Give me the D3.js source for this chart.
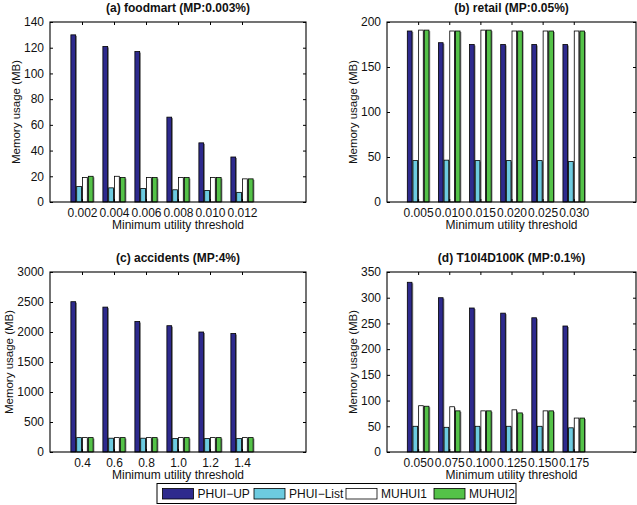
<!DOCTYPE html>
<html><head><meta charset="utf-8">
<script src="https://cdn.jsdelivr.net/npm/d3@7/dist/d3.min.js"></script>
<style>body{margin:0;background:#fff}svg{display:block;font-family:Arial,"Liberation Sans",sans-serif}</style>
</head><body><svg id="c" width="637" height="505"></svg>
<script>
const seriesNames = ["PHUI\u2212UP", "PHUI\u2212List", "MUHUI1", "MUHUI2"];
const seriesColors = ["#2e2a8d", "#6dcbe0", "#ffffff", "#54c248"];

const titles = ["(a) foodmart (MP:0.003%)", "(b) retail (MP:0.05%)", "(c) accidents (MP:4%)", "(d) T10I4D100K (MP:0.1%)"];
const xLabelsA = ["0.002", "0.004", "0.006", "0.008", "0.010", "0.012"];
const xLabelsB = ["0.005", "0.010", "0.015", "0.020", "0.025", "0.030"];
const xLabelsC = ["0.4", "0.6", "0.8", "1.0", "1.2", "1.4"];
const xLabelsD = ["0.050", "0.075", "0.100", "0.125", "0.150", "0.175"];

// values per panel: [PHUI-UP, PHUI-List, MUHUI1, MUHUI2]
const foodmartUP   = [130, 121, 117, 66, 46, 35];
const foodmartList = [12, 11, 10.5, 9.5, 9, 7.5];
const foodmartM1   = [19, 20, 19, 19, 19, 18];
const foodmartM2   = [20, 19, 19, 19, 19, 18];

const retailUP   = [190, 177, 175, 175, 175, 175];
const retailList = [46, 46.5, 46, 46, 46, 45];
const retailM1   = [191, 190, 191, 190, 190, 190];
const retailM2   = [191, 190, 191, 190, 190, 190];

const accUP   = [2505, 2415, 2175, 2105, 2000, 1975];
const accList = [240, 230, 230, 225, 225, 225];
const accM1   = [240, 240, 240, 240, 240, 240];
const accM2   = [240, 240, 240, 240, 240, 240];

const t10UP   = [330, 300, 280, 270, 261, 245];
const t10List = [50, 48, 50, 50, 50, 47];
const t10M1   = [90, 88, 80, 82, 80, 66];
const t10M2   = [89, 80, 80, 76, 80, 66];

const yMax = [140, 200, 3000, 350];
const yStep = [20, 50, 500, 50];

const panels = [
  {title: titles[0], labels: xLabelsA, series: [foodmartUP, foodmartList, foodmartM1, foodmartM2], ymax: yMax[0], ystep: yStep[0], box: {l: 50, r: 306, t: 22, b: 202}},
  {title: titles[1], labels: xLabelsB, series: [retailUP, retailList, retailM1, retailM2], ymax: yMax[1], ystep: yStep[1], box: {l: 387, r: 636, t: 22, b: 202}},
  {title: titles[2], labels: xLabelsC, series: [accUP, accList, accM1, accM2], ymax: yMax[2], ystep: yStep[2], box: {l: 50, r: 306, t: 272, b: 452}},
  {title: titles[3], labels: xLabelsD, series: [t10UP, t10List, t10M1, t10M2], ymax: yMax[3], ystep: yStep[3], box: {l: 387, r: 636, t: 272, b: 452}}
];

const svg = d3.select("#c");
const fs = 12;
const ff = "Arial, 'Liberation Sans', sans-serif";

panels.forEach(p => {
  const B = p.box;
  const g = svg.append("g");
  const x = d3.scaleLinear().domain([0, 8]).range([B.l, B.r]);
  const y = d3.scaleLinear().domain([0, p.ymax]).range([B.b, B.t]);
  const n = p.series.length;
  const groupW = n / (n + 1.5);
  const slot = groupW / n;
  const bw = slot * 0.82;

  // bars
  p.series.forEach((vals, j) => {
    vals.forEach((v, i) => {
      const cx = (i + 1) - groupW / 2 + slot * (j + 0.5);
      const x0 = x(cx - bw / 2), x1 = x(cx + bw / 2);
      g.append("rect").attr("x", x1 - 0.3).attr("y", y(v) + 1).attr("width", 1.6)
        .attr("height", Math.max(0, B.b - y(v) - 1)).attr("fill", "#8c8c8c");
      g.append("rect").attr("x", x0).attr("y", y(v)).attr("width", x1 - x0)
        .attr("height", B.b - y(v)).attr("fill", seriesColors[j])
        .attr("stroke", "#000").attr("stroke-width", 0.8);
    });
  });

  // axes
  const ticksY = d3.range(0, p.ymax + 0.001, p.ystep);
  const yAx = d3.axisLeft(y).tickValues(ticksY).tickFormat(d3.format("d")).tickSizeInner(-3).tickSizeOuter(0).tickPadding(6);
  const ya = g.append("g").attr("transform", `translate(${B.l},0)`).call(yAx);
  const yr = g.append("g").attr("transform", `translate(${B.r},0)`).call(d3.axisRight(y).tickValues(ticksY).tickSizeInner(-3).tickSizeOuter(0).tickFormat(""));
  const xTicks = d3.range(1, 7);
  const xa = g.append("g").attr("transform", `translate(0,${B.b})`)
    .call(d3.axisBottom(x).tickValues(xTicks).tickFormat((d, i) => p.labels[i]).tickSizeInner(-3).tickSizeOuter(0).tickPadding(6));
  const xt = g.append("g").attr("transform", `translate(0,${B.t})`)
    .call(d3.axisTop(x).tickValues(xTicks).tickFormat("").tickSizeInner(-3).tickSizeOuter(0));
  [ya, yr, xa, xt].forEach(a => {
    a.select(".domain").remove();
    a.selectAll("line").attr("stroke", "#000");
    a.selectAll("text").attr("font-size", fs).attr("fill", "#111").attr("font-family", ff);
  });
  xa.selectAll("text").attr("dy", "0.71em");

  g.append("rect").attr("x", B.l).attr("y", B.t).attr("width", B.r - B.l).attr("height", B.b - B.t)
    .attr("fill", "none").attr("stroke", "#000").attr("stroke-width", 1.1);

  g.append("text").attr("x", (B.l + B.r) / 2).attr("y", B.t - 10).attr("text-anchor", "middle")
    .attr("font-size", 12).attr("font-weight", "bold").attr("fill", "#111").text(p.title);
  g.append("text").attr("x", (B.l + B.r) / 2).attr("y", B.b + 27).attr("text-anchor", "middle")
    .attr("font-size", fs).attr("fill", "#111").text("Minimum utility threshold");

  let tickW = 0;
  ya.selectAll("text").each(function () { tickW = Math.max(tickW, this.getComputedTextLength()); });
  const lx = B.l - 6 - tickW - 4;
  g.append("text").attr("transform", `translate(${lx},${(B.t + B.b) / 2}) rotate(-90)`)
    .attr("text-anchor", "middle").attr("font-size", 11.5).attr("fill", "#111").text("Memory usage (MB)");
});

// legend
const lg = svg.append("g");
lg.append("rect").attr("x", 157).attr("y", 483.5).attr("width", 359).attr("height", 20)
  .attr("fill", "#fff").attr("stroke", "#000").attr("stroke-width", 1);
const legX = [162.5, 254, 346, 434];
seriesNames.forEach((s, j) => {
  lg.append("rect").attr("x", legX[j]).attr("y", 488.5).attr("width", 31).attr("height", 10.5)
    .attr("fill", seriesColors[j]).attr("stroke", "#000").attr("stroke-width", 0.8);
  lg.append("text").attr("x", legX[j] + 35).attr("y", 498).attr("font-size", 12).attr("fill", "#111").text(s);
});
</script></body></html>
